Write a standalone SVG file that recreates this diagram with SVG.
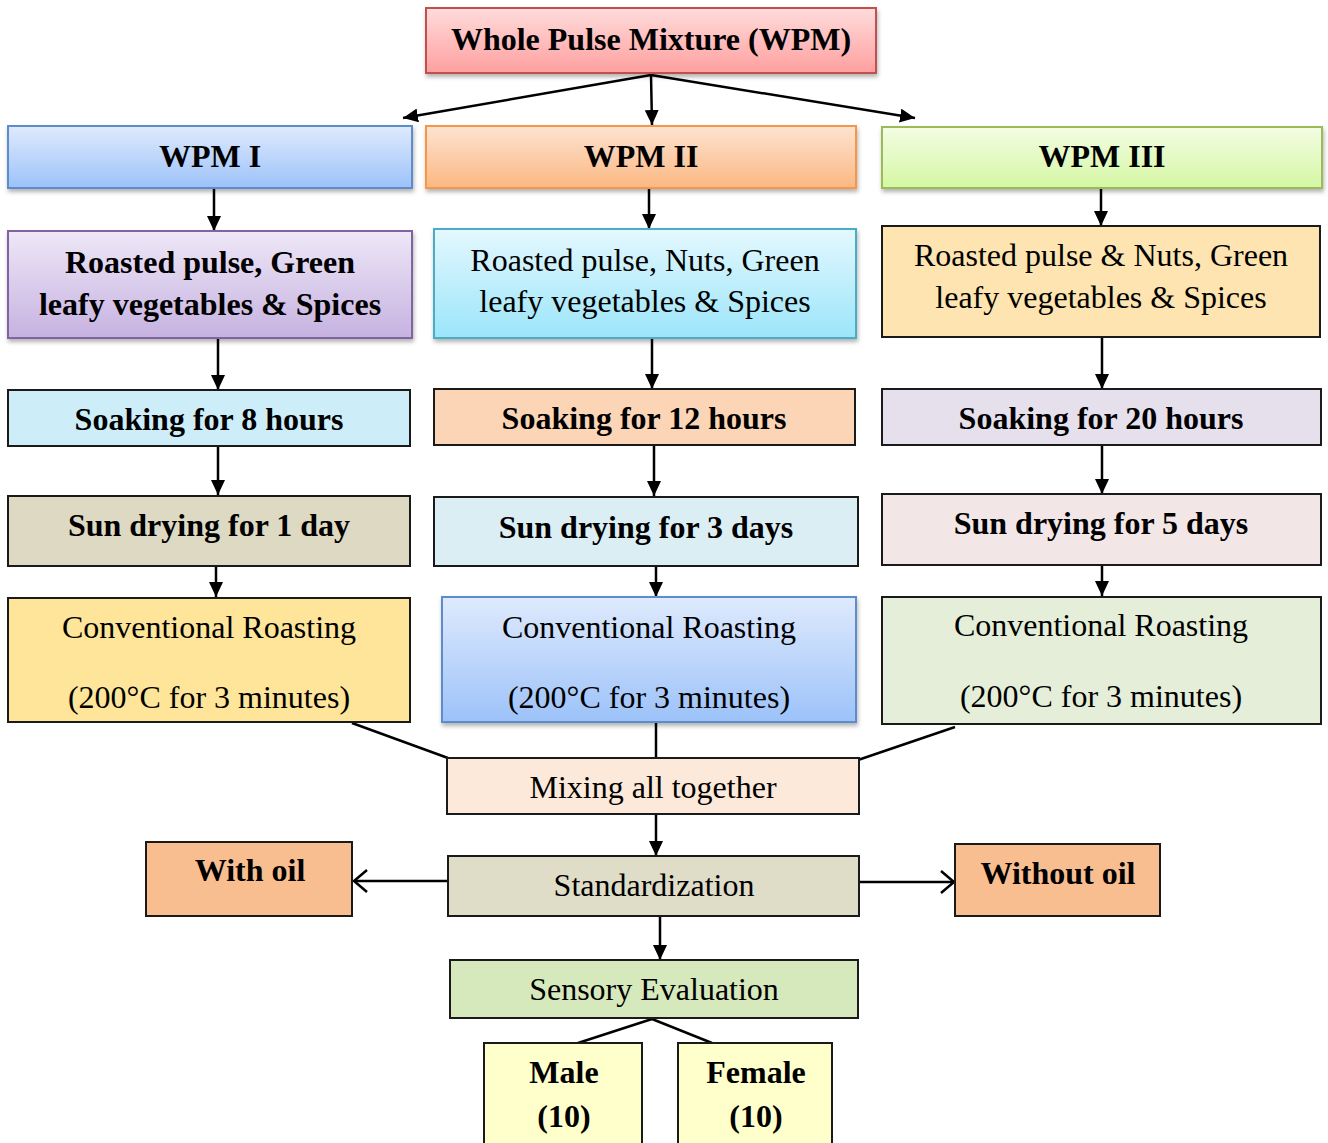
<svg xmlns="http://www.w3.org/2000/svg" width="1328" height="1143" viewBox="0 0 1328 1143">
<style>
text{font-family:"Liberation Serif","Times New Roman",serif;font-size:32px;fill:#000;text-anchor:middle}
.b{font-weight:bold}
.box{stroke:#1a1a1a;stroke-width:2}
.conn line,.conn path{stroke:#000;stroke-width:2.5;fill:none}
.arr{marker-end:url(#ah)}
.open{marker-end:url(#oh)}
</style>
<defs>
<linearGradient id="gRed" x1="0" y1="0" x2="0" y2="1"><stop offset="0" stop-color="#ffdcdc"/><stop offset="1" stop-color="#ff9f9f"/></linearGradient>
<linearGradient id="gBlue" x1="0" y1="0" x2="0" y2="1"><stop offset="0" stop-color="#dfeafd"/><stop offset="1" stop-color="#9cc2f9"/></linearGradient>
<linearGradient id="gOrange" x1="0" y1="0" x2="0" y2="1"><stop offset="0" stop-color="#fde3d1"/><stop offset="1" stop-color="#fbb883"/></linearGradient>
<linearGradient id="gGreen" x1="0" y1="0" x2="0" y2="1"><stop offset="0" stop-color="#f3fde4"/><stop offset="1" stop-color="#d5f7a3"/></linearGradient>
<linearGradient id="gPurple" x1="0" y1="0" x2="0" y2="1"><stop offset="0" stop-color="#eee7f7"/><stop offset="1" stop-color="#c6b2e1"/></linearGradient>
<linearGradient id="gCyan" x1="0" y1="0" x2="0" y2="1"><stop offset="0" stop-color="#e4f8fe"/><stop offset="1" stop-color="#9be5fa"/></linearGradient>
<filter id="sh" x="-5%" y="-10%" width="110%" height="130%"><feDropShadow dx="1" dy="3" stdDeviation="2" flood-color="#000" flood-opacity="0.3"/></filter>
<marker id="ah" markerUnits="userSpaceOnUse" markerWidth="16" markerHeight="14" refX="15" refY="7" orient="auto"><path d="M0,0 L15,7 L0,14 z" fill="#000"/></marker>
<marker id="oh" markerUnits="userSpaceOnUse" markerWidth="16" markerHeight="24" refX="14" refY="12" orient="auto"><path d="M1,1 L14,12 L1,23" fill="none" stroke="#000" stroke-width="2.5"/></marker>
</defs>

<g id="connectors" class="conn">
<line class="arr" x1="651" y1="75" x2="403" y2="118"/>
<line class="arr" x1="651" y1="75" x2="652" y2="125"/>
<line class="arr" x1="651" y1="75" x2="915" y2="118"/>
<line class="arr" x1="214" y1="189" x2="214" y2="231"/>
<line class="arr" x1="649" y1="189" x2="649" y2="229"/>
<line class="arr" x1="1101" y1="189" x2="1101" y2="226"/>
<line class="arr" x1="218" y1="338" x2="218" y2="390"/>
<line class="arr" x1="652" y1="338" x2="652" y2="389"/>
<line class="arr" x1="1102" y1="337" x2="1102" y2="389"/>
<line class="arr" x1="218" y1="446" x2="218" y2="495"/>
<line class="arr" x1="654" y1="445" x2="654" y2="496"/>
<line class="arr" x1="1102" y1="445" x2="1102" y2="494"/>
<line class="arr" x1="216" y1="566" x2="216" y2="597"/>
<line class="arr" x1="656" y1="566" x2="656" y2="597"/>
<line class="arr" x1="1102" y1="565" x2="1102" y2="596"/>
<line x1="352" y1="723" x2="448" y2="758"/>
<line x1="656" y1="722" x2="656" y2="758"/>
<line x1="955" y1="727" x2="858" y2="760"/>
<line class="arr" x1="656" y1="814" x2="656" y2="856"/>
<line class="open" x1="447" y1="881" x2="354" y2="881"/>
<line class="open" x1="859" y1="882" x2="954" y2="882"/>
<line class="arr" x1="660" y1="916" x2="660" y2="960"/>
<line x1="652" y1="1019" x2="578" y2="1043"/>
<line x1="652" y1="1019" x2="712" y2="1043"/>
</g>

<g id="n-wpm">
<rect x="426" y="8" width="450" height="65" fill="url(#gRed)" stroke="#c0504d" stroke-width="2" filter="url(#sh)"/>
<text class="b" x="651" y="50">Whole Pulse Mixture (WPM)</text>
</g>
<g id="n-wpm1">
<rect x="8" y="126" width="404" height="62" fill="url(#gBlue)" stroke="#5b8ccc" stroke-width="2" filter="url(#sh)"/>
<text class="b" x="210" y="167">WPM I</text>
</g>
<g id="n-wpm2">
<rect x="426" y="126" width="430" height="62" fill="url(#gOrange)" stroke="#f79646" stroke-width="2" filter="url(#sh)"/>
<text class="b" x="641" y="167">WPM II</text>
</g>
<g id="n-wpm3">
<rect x="882" y="127" width="440" height="61" fill="url(#gGreen)" stroke="#9bbb59" stroke-width="2" filter="url(#sh)"/>
<text class="b" x="1102" y="167">WPM III</text>
</g>

<g id="n-ing1">
<rect x="8" y="231" width="404" height="107" fill="url(#gPurple)" stroke="#8064a2" stroke-width="2" filter="url(#sh)"/>
<text class="b" x="210" y="273">Roasted pulse, Green</text>
<text class="b" x="210" y="315">leafy vegetables &amp; Spices</text>
</g>
<g id="n-ing2">
<rect x="434" y="229" width="422" height="109" fill="url(#gCyan)" stroke="#4bacc6" stroke-width="2" filter="url(#sh)"/>
<text x="645" y="271">Roasted pulse, Nuts, Green</text>
<text x="645" y="312">leafy vegetables &amp; Spices</text>
</g>
<g id="n-ing3">
<rect class="box" x="882" y="226" width="438" height="111" fill="#fde4b0"/>
<text x="1101" y="266">Roasted pulse &amp; Nuts, Green</text>
<text x="1101" y="308">leafy vegetables &amp; Spices</text>
</g>

<g id="n-soak1">
<rect class="box" x="8" y="390" width="402" height="56" fill="#cdeef8"/>
<text class="b" x="209" y="430">Soaking for 8 hours</text>
</g>
<g id="n-soak2">
<rect class="box" x="434" y="389" width="421" height="56" fill="#fbd5b5"/>
<text class="b" x="644" y="429">Soaking for 12 hours</text>
</g>
<g id="n-soak3">
<rect class="box" x="882" y="389" width="439" height="56" fill="#e5e0ec"/>
<text class="b" x="1101" y="429">Soaking for 20 hours</text>
</g>

<g id="n-dry1">
<rect class="box" x="8" y="496" width="402" height="70" fill="#ddd9c3"/>
<text class="b" x="209" y="536">Sun drying for 1 day</text>
</g>
<g id="n-dry2">
<rect class="box" x="434" y="497" width="424" height="69" fill="#dbeef3"/>
<text class="b" x="646" y="538">Sun drying for 3 days</text>
</g>
<g id="n-dry3">
<rect class="box" x="882" y="494" width="439" height="71" fill="#f2e6e6"/>
<text class="b" x="1101" y="534">Sun drying for 5 days</text>
</g>

<g id="n-roast1">
<rect class="box" x="8" y="598" width="402" height="124" fill="#fee599"/>
<text x="209" y="638">Conventional Roasting</text>
<text x="209" y="708">(200°C for 3 minutes)</text>
</g>
<g id="n-roast2">
<rect x="442" y="597" width="414" height="125" fill="url(#gBlue)" stroke="#5b8ccc" stroke-width="2" filter="url(#sh)"/>
<text x="649" y="638">Conventional Roasting</text>
<text x="649" y="708">(200°C for 3 minutes)</text>
</g>
<g id="n-roast3">
<rect class="box" x="882" y="597" width="439" height="127" fill="#e5eed8"/>
<text x="1101" y="636">Conventional Roasting</text>
<text x="1101" y="707">(200°C for 3 minutes)</text>
</g>

<g id="n-mix">
<rect class="box" x="447" y="758" width="412" height="56" fill="#fde9d9"/>
<text x="653" y="798">Mixing all together</text>
</g>
<g id="n-std">
<rect class="box" x="448" y="856" width="411" height="60" fill="#dfdcc8"/>
<text x="654" y="896">Standardization</text>
</g>
<g id="n-withoil">
<rect class="box" x="146" y="842" width="206" height="74" fill="#f9be8f"/>
<text class="b" x="250" y="881">With oil</text>
</g>
<g id="n-withoutoil">
<rect class="box" x="955" y="844" width="205" height="72" fill="#f9be8f"/>
<text class="b" x="1058" y="884">Without oil</text>
</g>
<g id="n-sensory">
<rect class="box" x="450" y="960" width="408" height="58" fill="#d6e9bc"/>
<text x="654" y="1000">Sensory Evaluation</text>
</g>
<g id="n-male">
<rect class="box" x="484" y="1043" width="158" height="110" fill="#ffffcc"/>
<text class="b" x="564" y="1083">Male</text>
<text class="b" x="564" y="1127">(10)</text>
</g>
<g id="n-female">
<rect class="box" x="678" y="1043" width="154" height="110" fill="#ffffcc"/>
<text class="b" x="756" y="1083">Female</text>
<text class="b" x="756" y="1127">(10)</text>
</g>
</svg>
